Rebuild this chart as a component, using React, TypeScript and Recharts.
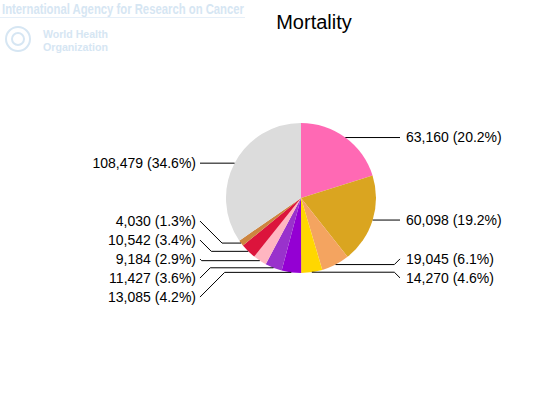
import React from "react";
import { PieChart, Pie, Cell } from "recharts";

const LABELS = ["Slice 1", "Slice 2", "Slice 3", "Slice 4", "Slice 5", "Slice 6", "Slice 7", "Slice 8", "Slice 9", "Other"];
const VALUES = [63160, 60098, 19045, 14270, 13085, 11427, 9184, 10542, 4030, 108479];
const COLORS = ["#FF69B4", "#DAA520", "#F4A460", "#FFD700", "#9400D3", "#9932CC", "#FFB6C1", "#DC143C", "#CD853F", "#DCDCDC"];

const CX = 301;
const CY = 198;
const R = 75;
const GAP = 19;
const RAD = Math.PI / 180;

const data = VALUES.map((v, i) => ({ name: LABELS[i], value: v }));
const total = VALUES.reduce((a, b) => a + b, 0);

// spread labels on each side so they don't overlap
function layoutLabels(cx: number, cy: number, r: number) {
  let acc = 0;
  const items = VALUES.map((v, i) => {
    const mid = 90 - ((acc + v / 2) / total) * 360;
    acc += v;
    const x = cx + r * Math.cos(mid * RAD);
    const y = cy - r * Math.sin(mid * RAD);
    return { i, y, right: x >= cx };
  });
  const out: number[] = [];
  [true, false].forEach((side) => {
    const list = items.filter((d) => d.right === side).sort((a, b) => a.y - b.y);
    let groups = list.map((d) => ({ ids: [d.i], ideal: [d.y], top: d.y }));
    let changed = true;
    while (changed) {
      changed = false;
      groups.forEach((g) => {
        const mean = g.ideal.reduce((a, b) => a + b, 0) / g.ideal.length;
        g.top = mean - ((g.ids.length - 1) * GAP) / 2;
      });
      for (let k = 0; k < groups.length - 1; k++) {
        const a = groups[k];
        const b = groups[k + 1];
        if (a.top + (a.ids.length - 1) * GAP + GAP > b.top) {
          groups = [
            ...groups.slice(0, k),
            { ids: [...a.ids, ...b.ids], ideal: [...a.ideal, ...b.ideal], top: 0 },
            ...groups.slice(k + 2),
          ];
          changed = true;
          break;
        }
      }
    }
    groups.forEach((g) => g.ids.forEach((id, j) => (out[id] = g.top + j * GAP)));
  });
  return out;
}

const renderLabel = (props: any) => {
  const { cx, cy, midAngle, outerRadius, index, value } = props;
  const ys = layoutLabels(cx, cy, outerRadius);
  const ex = cx + outerRadius * Math.cos(-midAngle * RAD);
  const ey = cy + outerRadius * Math.sin(-midAngle * RAD);
  const right = ex >= cx;
  const ly = ys[index];
  const dy = Math.abs(ly - ey);
  const lx = right ? cx + 99 : cx - 101;
  const bx = right ? Math.max(ex, lx - dy) : Math.min(ex, lx + dy);
  const pct = ((value / total) * 100).toFixed(1);
  return (
    <g key={`lbl-${index}`}>
      <polyline points={`${ex},${ey} ${bx},${ey} ${lx},${ly}`} fill="none" stroke="#000" strokeWidth={1} />
      <text
        x={right ? lx + 6 : lx - 4}
        y={ly}
        dy="0.35em"
        textAnchor={right ? "start" : "end"}
        fontSize={14}
        fontFamily="Liberation Sans, Arial, sans-serif"
        fill="#000"
      >
        {`${value.toLocaleString("en-US")} (${pct}%)`}
      </text>
    </g>
  );
};

const headFont = "Liberation Sans, Arial, sans-serif";

export default function App() {
  return (
    <div style={{ position: "absolute", left: 0, top: 0, width: 539, height: 398, background: "#fff" }}>
      <svg width={539} height={60} style={{ position: "absolute", left: 0, top: 0 }}>
        <text x={2} y={14} fontSize={14} fontWeight="bold" fontFamily={headFont} fill="#d6e6f3" textLength={242} lengthAdjust="spacingAndGlyphs">
          International Agency for Research on Cancer
        </text>
        <line x1={0} y1={17.5} x2={245} y2={17.5} stroke="#e6eff8" />
        <circle cx={18} cy={39} r={12} fill="none" stroke="#d6e6f3" strokeWidth={2} />
        <circle cx={18} cy={39} r={6} fill="none" stroke="#d6e6f3" strokeWidth={2} />
        <text x={43} y={38} fontSize={11} fontWeight="bold" fontFamily={headFont} fill="#d6e6f3" textLength={65} lengthAdjust="spacingAndGlyphs">
          World Health
        </text>
        <text x={43} y={51} fontSize={11} fontWeight="bold" fontFamily={headFont} fill="#d6e6f3" textLength={65} lengthAdjust="spacingAndGlyphs">
          Organization
        </text>
      </svg>
      <div style={{ position: "absolute", left: 0, top: 0 }}>
        <PieChart width={539} height={398} margin={{ top: 0, right: 0, bottom: 0, left: 0 }}>
          <text x={314} y={22} dy="0.35em" textAnchor="middle" fontSize={20} fontFamily={headFont} fill="#000">
            Mortality
          </text>
          <Pie
            data={data}
            dataKey="value"
            cx={CX}
            cy={CY}
            outerRadius={R}
            startAngle={90}
            endAngle={-270}
            stroke="none"
            labelLine={false}
            label={renderLabel}
            isAnimationActive={false}
          >
            {data.map((d, i) => (
              <Cell key={`cell-${i}`} fill={COLORS[i]} />
            ))}
          </Pie>
        </PieChart>
      </div>
    </div>
  );
}
